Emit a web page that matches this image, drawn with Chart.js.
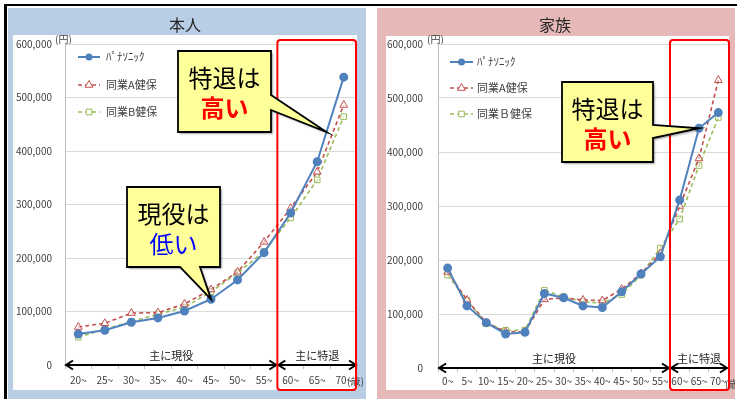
<!DOCTYPE html>
<html><head><meta charset="utf-8">
<script src="https://cdn.jsdelivr.net/npm/chart.js@4"></script>
<style>
html,body{margin:0;padding:0;background:#fff;width:737px;height:399px;overflow:hidden;position:relative;}
#frameTop{position:absolute;left:4px;top:4px;width:733px;height:2px;background:#000;}
#frameLeft{position:absolute;left:4px;top:4px;width:3px;height:395px;background:#000;}
.panel{position:absolute;top:8px;width:358px;height:391px;}
#p1{left:8px} #p2{left:377px}
</style></head><body>
<div id="frameTop"></div><div id="frameLeft"></div>
<div class="panel" id="p1"><canvas id="c1"></canvas></div>
<div class="panel" id="p2"><canvas id="c2"></canvas></div>
<script>
// ---- data ----
const honninCategories = ['20~','25~','30~','35~','40~','45~','50~','55~','60~','65~','70~'];
const honninPana = [58000, 65000, 80000, 88000, 101000, 123000, 159000, 210000, 284000, 380000, 538000];
const honninA    = [71000, 78000, 97000, 98000, 114000, 141000, 174000, 230000, 293000, 361000, 486000];
const honninB    = [52000, 67000, 81000, 95000, 108000, 137000, 172000, 212000, 275000, 346000, 464000];

const kazokuCategories = ['0~','5~','10~','15~','20~','25~','30~','35~','40~','45~','50~','55~','60~','65~','70~'];
const kazokuPana = [185000,115000,84000,63000,66000,138000,130000,115000,112000,141000,174000,206000,311000,444000,473000];
const kazokuA    = [178000,126000,84000,67000,67000,127000,130000,126000,125000,146000,175000,212000,300000,388000,533000];
const kazokuB    = [172000,125000,82000,70000,70000,144000,132000,123000,120000,136000,172000,222000,276000,375000,464000];

const yMin = 0, yMax = 600000, yStep = 100000;
const seriesNames = ['ﾊﾟﾅｿﾆｯｸ', '同業A健保', '同業B健保'];
const seriesNamesKazoku = ['ﾊﾟﾅｿﾆｯｸ', '同業A健保', '同業Ｂ健保'];
const groupLabels = ['主に現役', '主に特退'];
const retireStartIndex = 8; // honnin: 60~
const retireStartIndexK = 12; // kazoku: 60~

const FONT = '"Noto Sans CJK JP", "Noto Sans", sans-serif';
const BLUE = '#4f81bd', RED = '#c0504d', GREEN = '#9bbb59';

function datasetsFor(pana, a, b, names) {
  return [
    {label: names[0], data: pana, borderColor: BLUE, backgroundColor: BLUE, borderWidth: 2,
     pointStyle: 'circle', pointRadius: 3.5, pointBackgroundColor: BLUE, pointBorderColor: BLUE, tension: 0},
    {label: names[1], data: a, borderColor: RED, backgroundColor: 'rgba(255,255,255,0.6)', borderWidth: 1.6, borderDash: [4,3],
     pointStyle: 'triangle', pointRadius: 4.5, pointBorderWidth: 1, pointBackgroundColor: 'rgba(255,255,255,0.5)', pointBorderColor: RED, tension: 0},
    {label: names[2], data: b, borderColor: GREEN, backgroundColor: 'rgba(255,255,255,0.6)', borderWidth: 1.6, borderDash: [4,3],
     pointStyle: 'rect', pointRadius: 4, pointBorderWidth: 1, pointBackgroundColor: 'rgba(255,255,255,0.5)', pointBorderColor: GREEN, tension: 0}
  ];
}

function arrowHead(ctx, x, y, dir) {
  ctx.beginPath();
  ctx.moveTo(x - dir * 7, y - 4.5);
  ctx.lineTo(x, y);
  ctx.lineTo(x - dir * 7, y + 4.5);
  ctx.stroke();
}

function drawCallout(ctx, c, tip) {
  const {x0, y0, x1, y1} = c;
  ctx.save();
  ctx.beginPath();
  if (c.side === 'right') {
    ctx.moveTo(x0, y0); ctx.lineTo(x1, y0); ctx.lineTo(x1, c.w0);
    ctx.lineTo(tip.x, tip.y); ctx.lineTo(x1, c.w1); ctx.lineTo(x1, y1); ctx.lineTo(x0, y1);
  } else {
    ctx.moveTo(x0, y0); ctx.lineTo(x1, y0); ctx.lineTo(x1, y1); ctx.lineTo(c.w1, y1);
    ctx.lineTo(tip.x, tip.y); ctx.lineTo(c.w0, y1); ctx.lineTo(x0, y1);
  }
  ctx.closePath();
  ctx.shadowColor = 'rgba(0,0,0,0.35)';
  ctx.shadowOffsetX = 2; ctx.shadowOffsetY = 2; ctx.shadowBlur = 2;
  ctx.fillStyle = '#ffff99';
  ctx.fill();
  ctx.shadowColor = 'transparent';
  ctx.lineWidth = 1.8; ctx.strokeStyle = '#000'; ctx.lineJoin = 'miter';
  ctx.stroke();
  const cx = (x0 + x1) / 2;
  ctx.textAlign = 'center'; ctx.textBaseline = 'middle';
  ctx.fillStyle = '#000';
  ctx.font = '24px ' + FONT;
  ctx.fillText(c.line1, cx, y0 + 27);
  ctx.fillStyle = c.color2;
  ctx.font = c.bold2 + ' 24px ' + FONT;
  ctx.fillText(c.line2, cx, y0 + 57);
  ctx.restore();
}

function makeChart(id, cfg) {
  const deco = {
    id: 'deco' + id,
    beforeDraw(chart) {
      const ctx = chart.ctx;
      ctx.save();
      ctx.fillStyle = cfg.panelColor;
      ctx.fillRect(0, 0, chart.width, chart.height);
      ctx.fillStyle = '#ffffff';
      const w = cfg.white;
      ctx.fillRect(w[0], w[1], w[2] - w[0], w[3] - w[1]);
      ctx.fillStyle = '#262626';
      ctx.font = '16px ' + FONT;
      ctx.textAlign = 'center'; ctx.textBaseline = 'middle';
      ctx.fillText(cfg.title, cfg.titleX, 17);
      ctx.font = '10px ' + FONT;
      ctx.fillStyle = '#404040';
      ctx.textAlign = 'left';
      ctx.fillText('(円)', cfg.yenX, 31);
      ctx.restore();
    },
    afterDraw(chart) {
      const ctx = chart.ctx, xs = chart.scales.x, ys = chart.scales.y, ca = chart.chartArea;
      ctx.save();
      // (歳)
      ctx.font = '10px ' + FONT; ctx.fillStyle = '#404040';
      ctx.textAlign = 'left'; ctx.textBaseline = 'middle';
      ctx.fillText('(歳)', cfg.saiX, ca.bottom + 16);
      // boundary
      const bx = (xs.getPixelForValue(cfg.split - 1) + xs.getPixelForValue(cfg.split)) / 2;
      const y0 = ys.getPixelForValue(0);
      // arrows
      ctx.strokeStyle = '#000'; ctx.lineWidth = 2;
      const segs = [[ca.left + 1, bx - 1], [bx + 1, ca.right - 1]];
      segs.forEach((s, i) => {
        ctx.beginPath(); ctx.moveTo(s[0], y0); ctx.lineTo(s[1], y0); ctx.stroke();
        arrowHead(ctx, s[0], y0, -1); arrowHead(ctx, s[1], y0, 1);
        ctx.fillStyle = '#262626'; ctx.font = '11px ' + FONT;
        ctx.textAlign = 'center'; ctx.textBaseline = 'middle';
        ctx.fillText(groupLabels[i], (s[0] + s[1]) / 2, y0 - 9);
      });
      // red rectangle
      ctx.strokeStyle = '#ff0000'; ctx.lineWidth = 2;
      ctx.beginPath();
      if (ctx.roundRect) ctx.roundRect(bx, ca.top - 4, cfg.rectRight - bx, 382 - (ca.top - 4), 3);
      else ctx.rect(bx, ca.top - 4, cfg.rectRight - bx, 382 - (ca.top - 4));
      ctx.stroke();
      // legend
      const dsets = chart.data.datasets;
      const L = cfg.legend;
      dsets.forEach((d, i) => {
        const ly = L.ys[i];
        ctx.save();
        ctx.strokeStyle = d.borderColor; ctx.lineWidth = d.borderWidth;
        ctx.setLineDash(d.borderDash || []);
        ctx.beginPath(); ctx.moveTo(L.x0, ly); ctx.lineTo(L.x1, ly); ctx.stroke();
        ctx.setLineDash([]);
        ctx.strokeStyle = d.pointBorderColor; ctx.lineWidth = 1;
        ctx.beginPath();
        const mx = (L.x0 + L.x1) / 2, r = d.pointRadius;
        if (d.pointStyle === 'circle') { ctx.arc(mx, ly, r, 0, Math.PI * 2); ctx.fillStyle = BLUE; ctx.fill(); }
        else if (d.pointStyle === 'triangle') { ctx.moveTo(mx, ly - r); ctx.lineTo(mx + r * 0.87, ly + r / 2); ctx.lineTo(mx - r * 0.87, ly + r / 2); ctx.closePath(); ctx.fillStyle = '#fff'; ctx.fill(); ctx.stroke(); }
        else { ctx.rect(mx - r * 0.7, ly - r * 0.7, r * 1.4, r * 1.4); ctx.fillStyle = '#fff'; ctx.fill(); ctx.stroke(); }
        ctx.restore();
        ctx.fillStyle = '#404040'; ctx.font = '11px ' + FONT;
        ctx.textAlign = 'left'; ctx.textBaseline = 'middle';
        ctx.fillText(d.label, L.tx, ly);
      });
      // callouts
      const meta0 = chart.getDatasetMeta(0);
      cfg.callouts.forEach(c => {
        let tip;
        const p = meta0.data[c.idx];
        if (c.frac) {
          const q = meta0.data[c.idx + 1];
          tip = {x: p.x + (q.x - p.x) * c.frac, y: p.y + (q.y - p.y) * c.frac};
        } else tip = {x: p.x, y: p.y};
        drawCallout(ctx, c, tip);
      });
      ctx.restore();
    }
  };

  return new Chart(document.getElementById(id), {
    type: 'line',
    data: {labels: cfg.labels, datasets: cfg.datasets},
    options: {
      responsive: true, maintainAspectRatio: false, animation: false,
      layout: {padding: {left: 0, right: cfg.padRight, top: cfg.padTop, bottom: 0}},
      plugins: {legend: {display: false}, title: {display: false}, tooltip: {enabled: false}},
      scales: {
        x: {
          type: 'category', offset: true,
          grid: {display: true, drawOnChartArea: false, drawTicks: true, tickLength: 4, color: '#bfbfbf', offset: true},
          border: {display: true, color: '#bfbfbf'},
          ticks: {font: {size: 10, family: FONT}, color: '#404040', padding: cfg.xPad, maxRotation: 0, autoSkip: false},
          afterFit(s) { s.height = cfg.xHeight; }
        },
        y: {
          min: yMin, max: yMax,
          ticks: {stepSize: yStep, font: {size: 10, family: FONT}, color: '#404040', padding: cfg.yPad,
                  callback: v => v.toLocaleString('en-US')},
          grid: {color: '#d9d9d9', drawTicks: false},
          border: {display: true, color: '#bfbfbf'},
          afterFit(s) { s.width = cfg.yWidth; }
        }
      }
    },
    plugins: [deco]
  });
}

makeChart('c1', {
  labels: honninCategories,
  datasets: datasetsFor(honninPana, honninA, honninB, seriesNames),
  panelColor: '#b9cde5', white: [5, 27, 349, 382], title: '本人', titleX: 177,
  yenX: 47, saiX: 339, padRight: 9, padTop: 36, xHeight: 34, yWidth: 57, xPad: 5, yPad: 13,
  split: retireStartIndex, rectRight: 348,
  legend: {x0: 70, x1: 92, tx: 98, ys: [49, 77, 104]},
  callouts: [
    {x0: 170, y0: 43, x1: 263, y1: 124, side: 'right', w0: 87, w1: 102, idx: 9, frac: 0.35,
     line1: '特退は', line2: '高い', color2: '#ff0000', bold2: 'bold'},
    {x0: 119, y0: 179, x1: 212, y1: 259, side: 'bottom', w0: 172, w1: 192, idx: 5,
     line1: '現役は', line2: '低い', color2: '#0000ff', bold2: 'normal'}
  ]
});

makeChart('c2', {
  labels: kazokuCategories,
  datasets: datasetsFor(kazokuPana, kazokuA, kazokuB, seriesNamesKazoku),
  panelColor: '#e6b9b8', white: [9, 28, 352, 382], title: '家族', titleX: 178,
  yenX: 50, saiX: 348, padRight: 7, padTop: 36, xHeight: 31, yWidth: 61, xPad: 3, yPad: 15,
  split: retireStartIndexK, rectRight: 352,
  legend: {x0: 73, x1: 96, tx: 100, ys: [54, 80, 106]},
  callouts: [
    {x0: 185, y0: 74, x1: 276, y1: 154, side: 'right', w0: 117, w1: 130, idx: 13,
     line1: '特退は', line2: '高い', color2: '#ff0000', bold2: 'bold'}
  ]
});
</script>
</body></html>
